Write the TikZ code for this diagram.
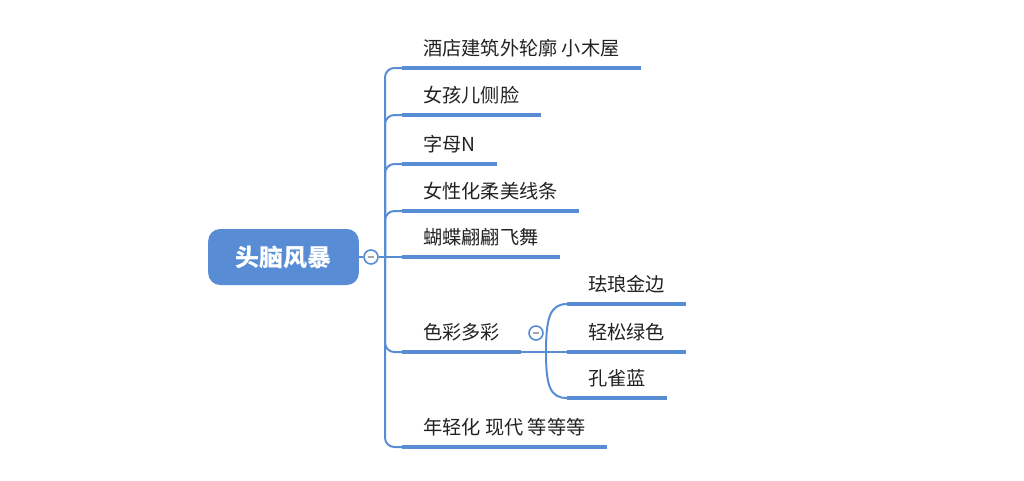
\documentclass[tikz,border=0pt]{standalone}
\usepackage{fontspec}
\setmainfont{Noto Sans CJK SC}
\usetikzlibrary{positioning}
\definecolor{mapblue}{RGB}{88,141,214}
\definecolor{maptext}{RGB}{34,34,34}
\begin{document}
\begin{tikzpicture}[x=0.75pt,y=-0.75pt,
    root/.style={rectangle, rounded corners=9pt, fill=mapblue, text=white,
        minimum width=113pt, minimum height=42pt, font=\fontsize{18}{20}\selectfont\bfseries},
    topic/.style={anchor=south west, inner xsep=15.75pt, inner ysep=9.5pt,
        text depth=0pt, text=maptext, font=\fontsize{14.4}{17}\selectfont},
    fold/.style={circle, draw=mapblue, line width=1.2pt, fill=white,
        minimum size=10.5pt, inner sep=0pt,
        path picture={\draw[gray!70, line width=1.2pt]
            ([xshift=-2.6pt]path picture bounding box.center) -- ([xshift=2.6pt]path picture bounding box.center);}},
    link/.style={draw=mapblue, line width=1.5pt},
    uline/.style={draw=mapblue, line width=3pt}]
    \useasboundingbox (0,0) rectangle (1024,480);

    % Root and fold buttons
    \node[root] (root) at (283.5,257) {头脑风暴};
    \node[fold] (fold1) at (371,257) {};
    \node[fold] (fold2) at (536,333) {};
    \coordinate (trunk) at (385,257);
    \coordinate (fork) at (546,352);

    % Main topics
    \node[topic] (b1) at (402,68) {酒店建筑外轮廓 小木屋};
    \node[topic] (b2) at (402,115) {女孩儿侧脸};
    \node[topic] (b3) at (402,164) {字母N};
    \node[topic] (b4) at (402,211) {女性化柔美线条};
    \node[topic] (b5) at (402,257) {蝴蝶翩翩飞舞};
    \node[topic] (b6) at (402,352) {色彩多彩};
    \node[topic] (b7) at (402,447) {年轻化 现代 等等等};

    % Sub topics
    \node[topic] (s1) at (567,304) {珐琅金边};
    \node[topic] (s2) at (567,352) {轻松绿色};
    \node[topic] (s3) at (567,398) {孔雀蓝};

    % Connectors
    \draw[link] (root.east) -- (fold1.west);
    \draw[link] (fold1.east) -- (trunk) -- (b5.south west);
    \foreach \b in {b1,b2,b3,b4,b6,b7}
        \draw[link, rounded corners=7pt] (trunk) |- (\b.south west);
    \draw[link] (b6.south east) -- (s2.south west);
    \draw[link] (fork) .. controls (546,318) and (550,304) .. (s1.south west);
    \draw[link] (fork) .. controls (546,386) and (550,398) .. (s3.south west);

    % Underlines
    \foreach \b in {b1,b2,b3,b4,b5,b6,b7,s1,s2,s3}
        \draw[uline] (\b.south west) -- (\b.south east);
\end{tikzpicture}
\end{document}
